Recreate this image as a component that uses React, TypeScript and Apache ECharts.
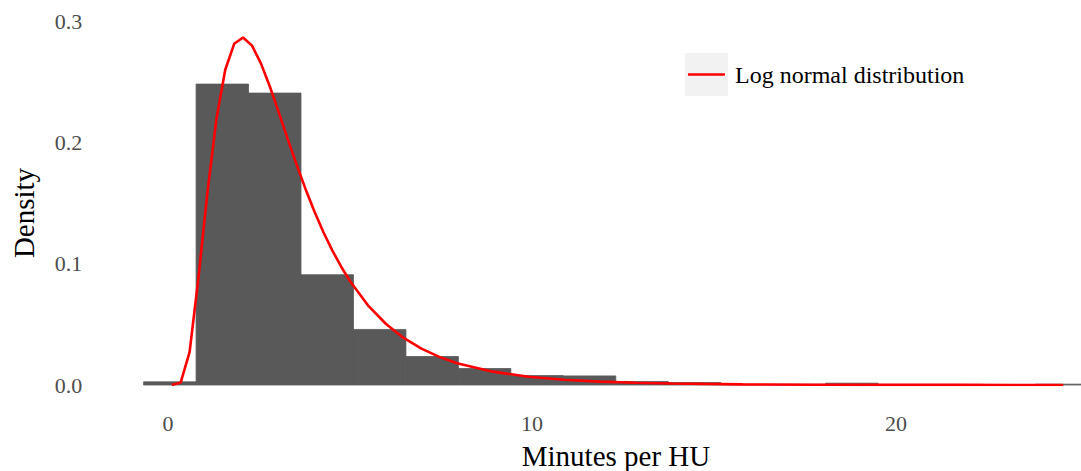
import React, { useEffect, useRef } from "react";
import * as echarts from "echarts";

// Histogram bins (Minutes per HU) and their densities
const BIN_EDGES = [
  -0.673, 0.769, 2.21, 3.651, 5.093, 6.534, 7.975, 9.416, 10.857, 12.299,
  13.74, 15.181, 16.622, 18.063, 19.504, 20.946, 22.387, 23.828, 25.269,
];
const BIN_DENSITY = [
  0.0026, 0.248, 0.2406, 0.0909, 0.0458, 0.0235, 0.0136, 0.0078, 0.0075,
  0.0029, 0.002, 0.0006, 0.0006, 0.0015, 0.0005, 0.0005, 0.0004, 0.0007,
];

// Log normal distribution curve
const CURVE_X = [
  0.1, 0.345, 0.59, 0.835, 1.08, 1.325, 1.57, 1.815, 2.06, 2.305, 2.55, 2.795,
  3.04, 3.285, 3.53, 3.775, 4.02, 4.265, 4.51, 4.755, 5.0, 5.49, 5.98, 6.47,
  6.96, 7.45, 7.94, 8.92, 9.9, 10.88, 11.86, 12.84, 13.82, 15.78, 17.74, 19.7,
  21.66, 23.62, 24.59,
];
const CURVE_Y = [
  0.0, 0.002, 0.027, 0.0887, 0.1586, 0.2187, 0.2598, 0.2812, 0.2864, 0.2797,
  0.2651, 0.246, 0.2247, 0.2029, 0.1816, 0.1616, 0.143, 0.1261, 0.111, 0.0975,
  0.0855, 0.0657, 0.0505, 0.0388, 0.03, 0.0232, 0.018, 0.011, 0.00685,
  0.00434, 0.00278, 0.00182, 0.00121, 0.00055, 0.00026, 0.00013, 0.00007,
  0.00004, 0.00003,
];

const X_TICKS = [0, 10, 20];
const Y_TICKS_INTERVAL = 0.1;

const SERIF = "'Liberation Serif', 'Times New Roman', Times, serif";

export default function App() {
  const ref = useRef<HTMLDivElement>(null);

  useEffect(() => {
    document.body.style.margin = "0";
    if (!ref.current) return;
    const chart = echarts.init(ref.current, null, { renderer: "svg" });

    const histData = BIN_DENSITY.map((d, i) => [BIN_EDGES[i], BIN_EDGES[i + 1], d]);
    const curveData = CURVE_X.map((x, i) => [x, CURVE_Y[i]]);

    chart.setOption({
      animation: false,
      backgroundColor: "#ffffff",
      grid: { left: 95.3, right: 0, top: 21, bottom: 86 },
      xAxis: {
        type: "value",
        min: -2,
        max: 25.08,
        axisLine: { show: false },
        axisTick: { show: false },
        splitLine: { show: false },
        axisLabel: {
          customValues: X_TICKS,
          color: "#4d4d4d",
          fontSize: 22,
          fontFamily: SERIF,
          margin: 27,
        },
      },
      yAxis: {
        type: "value",
        min: 0,
        max: 0.3,
        interval: Y_TICKS_INTERVAL,
        axisLine: { show: false },
        axisTick: { show: false },
        splitLine: { show: false },
        axisLabel: {
          color: "#4d4d4d",
          fontSize: 22,
          fontFamily: SERIF,
          margin: 13,
          formatter: (v: number) => v.toFixed(1),
        },
      },
      series: [
        {
          type: "custom",
          data: histData,
          encode: { x: [0, 1], y: 2 },
          renderItem: (params: any, api: any) => {
            const p0 = api.coord([api.value(0), api.value(2)]);
            const p1 = api.coord([api.value(1), 0]);
            const shape = echarts.graphic.clipRectByRect(
              { x: p0[0], y: p0[1], width: p1[0] - p0[0], height: p1[1] - p0[1] },
              {
                x: params.coordSys.x,
                y: params.coordSys.y,
                width: params.coordSys.width,
                height: params.coordSys.height,
              }
            );
            if (!shape) return null;
            return {
              type: "rect",
              shape,
              style: { fill: "#595959", stroke: "#595959", lineWidth: 0.8 },
            };
          },
          z: 1,
        },
        {
          type: "line",
          name: "Log normal distribution",
          data: curveData,
          showSymbol: false,
          symbol: "none",
          lineStyle: { color: "#ff0000", width: 2.6 },
          z: 5,
        },
      ],
      graphic: [
        {
          type: "rect",
          shape: { x: 685, y: 53, width: 43, height: 43 },
          style: { fill: "#f2f2f2" },
        },
        {
          type: "line",
          shape: { x1: 688, y1: 74.5, x2: 725, y2: 74.5 },
          style: { stroke: "#ff0000", lineWidth: 2.6 },
        },
        {
          type: "text",
          x: 735,
          y: 74.5,
          style: {
            text: "Log normal distribution",
            fontSize: 24,
            fontFamily: SERIF,
            fill: "#000000",
            verticalAlign: "middle",
            align: "left",
          },
        },
        {
          type: "text",
          x: 616,
          y: 456,
          style: {
            text: "Minutes per HU",
            fontSize: 29,
            fontFamily: SERIF,
            fill: "#000000",
            verticalAlign: "middle",
            align: "center",
          },
        },
        {
          type: "text",
          x: 24,
          y: 213,
          rotation: Math.PI / 2,
          style: {
            text: "Density",
            fontSize: 29,
            fontFamily: SERIF,
            fill: "#000000",
            verticalAlign: "middle",
            align: "center",
          },
        },
      ],
    });

    return () => chart.dispose();
  }, []);

  return <div ref={ref} style={{ width: 1081, height: 471 }} />;
}
